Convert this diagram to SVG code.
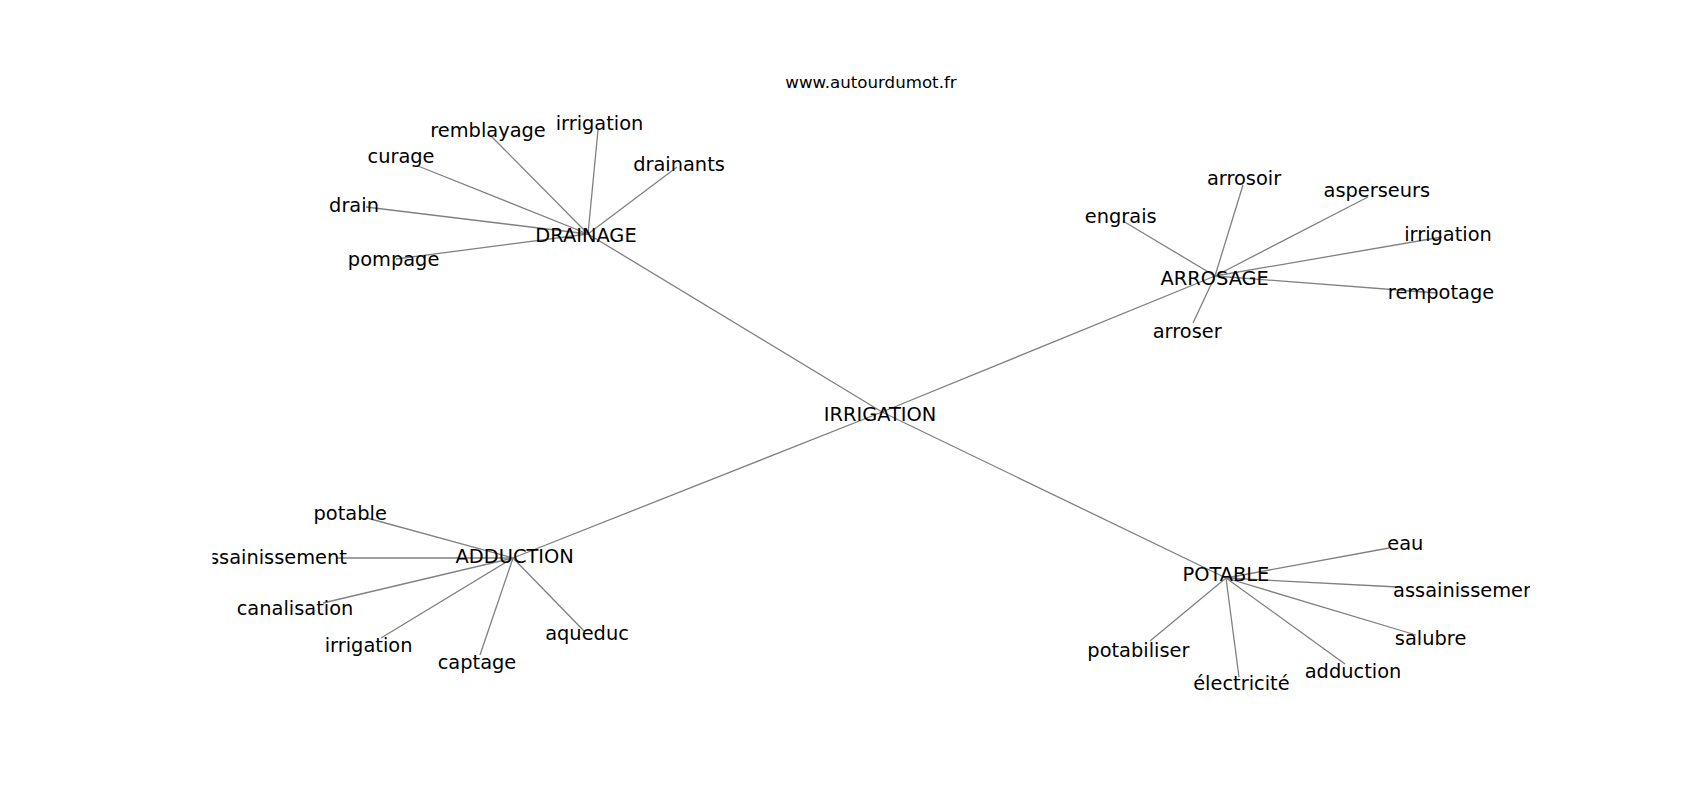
<svg xmlns="http://www.w3.org/2000/svg" width="1700" height="800" viewBox="0 0 1700 800">
<style>
.e{stroke:#808080;stroke-width:1.3;fill:none}
.n text{font-family:"DejaVu Sans",sans-serif;font-size:19.4px;fill:#000;text-anchor:middle}
.t{font-family:"DejaVu Sans",sans-serif;font-size:16.67px;fill:#000;text-anchor:middle}
</style>
<defs><clipPath id="ax"><rect x="212.5" y="96" width="1317.5" height="616"/></clipPath></defs>
<rect width="1700" height="800" fill="#fff"/>
<text class="t" x="871" y="88">www.autourdumot.fr</text>
<g clip-path="url(#ax)">
<g id="connectors">
<line class="e" x1="882" y1="412" x2="588" y2="234"/>
<line class="e" x1="882" y1="412" x2="1215" y2="276"/>
<line class="e" x1="882" y1="412" x2="513" y2="558"/>
<line class="e" x1="882" y1="412" x2="1226" y2="578"/>
<line class="e" x1="588" y1="234" x2="491" y2="136"/>
<line class="e" x1="588" y1="234" x2="598" y2="130"/>
<line class="e" x1="588" y1="234" x2="418" y2="166"/>
<line class="e" x1="588" y1="234" x2="677" y2="167"/>
<line class="e" x1="588" y1="234" x2="366" y2="207"/>
<line class="e" x1="588" y1="234" x2="396" y2="259"/>
<line class="e" x1="1215" y1="276" x2="1243" y2="185"/>
<line class="e" x1="1215" y1="276" x2="1123" y2="221"/>
<line class="e" x1="1215" y1="276" x2="1368" y2="197"/>
<line class="e" x1="1215" y1="276" x2="1442" y2="237"/>
<line class="e" x1="1215" y1="276" x2="1437" y2="293"/>
<line class="e" x1="1215" y1="276" x2="1193" y2="323"/>
<line class="e" x1="513" y1="558" x2="367" y2="518"/>
<line class="e" x1="513" y1="558" x2="336" y2="558"/>
<line class="e" x1="513" y1="558" x2="323" y2="603"/>
<line class="e" x1="513" y1="558" x2="381" y2="638"/>
<line class="e" x1="513" y1="558" x2="480" y2="655"/>
<line class="e" x1="513" y1="558" x2="584" y2="631"/>
<line class="e" x1="1226" y1="578" x2="1389" y2="548"/>
<line class="e" x1="1226" y1="578" x2="1398" y2="587"/>
<line class="e" x1="1226" y1="578" x2="1416" y2="635"/>
<line class="e" x1="1226" y1="578" x2="1345" y2="664"/>
<line class="e" x1="1226" y1="578" x2="1239" y2="677"/>
<line class="e" x1="1226" y1="578" x2="1150" y2="641"/>
</g>
<g id="IRRIGATION" class="n"><text x="880" y="421">IRRIGATION</text></g>
<g id="DRAINAGE" class="n"><text x="586" y="242">DRAINAGE</text></g>
<g id="d_remblayage" class="n"><text x="488" y="136.5">remblayage</text></g>
<g id="d_irrigation" class="n"><text x="599.5" y="130">irrigation</text></g>
<g id="d_curage" class="n"><text x="401" y="163">curage</text></g>
<g id="d_drainants" class="n"><text x="679" y="171">drainants</text></g>
<g id="d_drain" class="n"><text x="354" y="211.5">drain</text></g>
<g id="d_pompage" class="n"><text x="393.6" y="266">pompage</text></g>
<g id="ARROSAGE" class="n"><text x="1214.7" y="285">ARROSAGE</text></g>
<g id="a_arrosoir" class="n"><text x="1244" y="185">arrosoir</text></g>
<g id="a_engrais" class="n"><text x="1120.7" y="223">engrais</text></g>
<g id="a_asperseurs" class="n"><text x="1376.8" y="196.5">asperseurs</text></g>
<g id="a_irrigation" class="n"><text x="1448" y="241.3">irrigation</text></g>
<g id="a_rempotage" class="n"><text x="1441" y="298.7">rempotage</text></g>
<g id="a_arroser" class="n"><text x="1187.2" y="337.8">arroser</text></g>
<g id="ADDUCTION" class="n"><text x="514.7" y="562.7">ADDUCTION</text></g>
<g id="ad_potable" class="n"><text x="350.2" y="520">potable</text></g>
<g id="ad_assainissement" class="n"><text x="272" y="564">assainissement</text></g>
<g id="ad_canalisation" class="n"><text x="295" y="615">canalisation</text></g>
<g id="ad_irrigation" class="n"><text x="368.6" y="651.5">irrigation</text></g>
<g id="ad_captage" class="n"><text x="477" y="669">captage</text></g>
<g id="ad_aqueduc" class="n"><text x="587" y="639.5">aqueduc</text></g>
<g id="POTABLE" class="n"><text x="1225.9" y="580.5">POTABLE</text></g>
<g id="p_eau" class="n"><text x="1405.3" y="549.5">eau</text></g>
<g id="p_assainissement" class="n"><text x="1468" y="596.8">assainissement</text></g>
<g id="p_salubre" class="n"><text x="1430.6" y="645">salubre</text></g>
<g id="p_adduction" class="n"><text x="1353" y="677.5">adduction</text></g>
<g id="p_electricite" class="n"><text x="1241.4" y="689.5">électricité</text></g>
<g id="p_potabiliser" class="n"><text x="1138.4" y="657">potabiliser</text></g>
</g>
</svg>
